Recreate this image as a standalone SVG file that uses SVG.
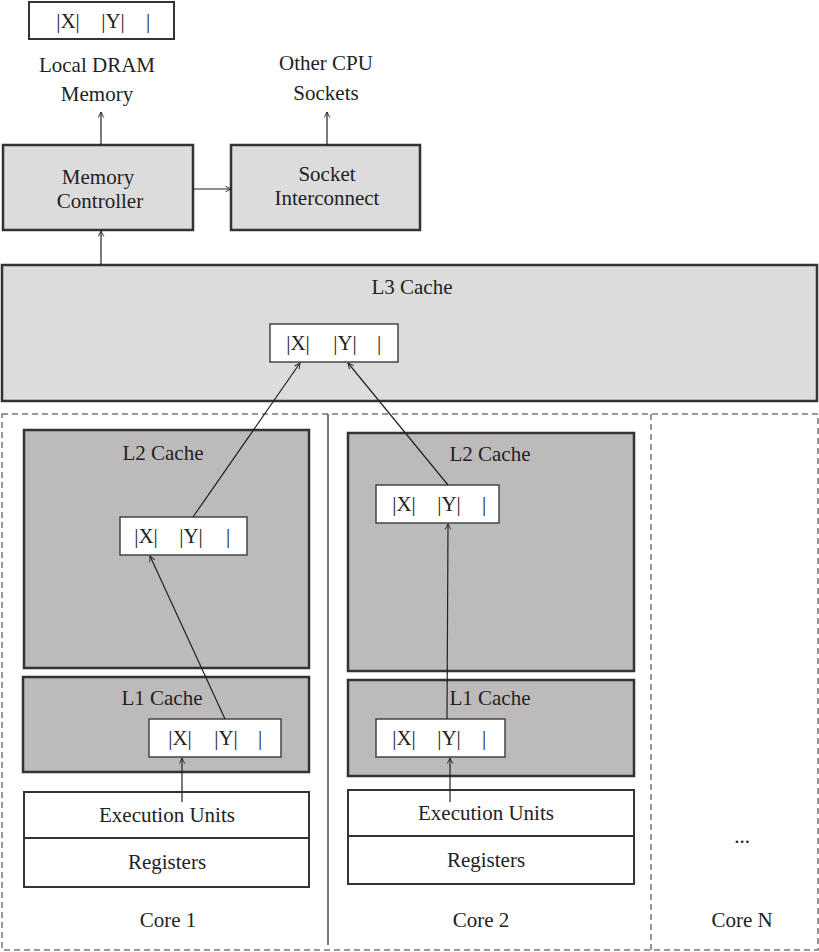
<svg xmlns="http://www.w3.org/2000/svg" width="819" height="952" viewBox="0 0 819 952">
<defs>
<marker id="ah" viewBox="0 0 10 10" refX="9" refY="5" markerWidth="7" markerHeight="7" markerUnits="userSpaceOnUse" orient="auto">
<path d="M1,1 L9,5 L1,9" fill="none" stroke="#222" stroke-width="1.3"/>
</marker>
<style>
text{font-family:"Liberation Serif","Times New Roman",serif;font-size:21px;fill:#222;text-anchor:middle}
.lt{fill:#dcdcdc;stroke:#333;stroke-width:2.5}
.dk{fill:#bcbabb;stroke:#333;stroke-width:2.5}
.wb{fill:#fff;stroke:#444;stroke-width:1.5}
.ex{fill:#fff;stroke:#333;stroke-width:2}
.con{stroke:#222;stroke-width:1.2;fill:none;marker-end:url(#ah)}
.dash{fill:none;stroke:#777;stroke-width:1.5;stroke-dasharray:6 4}
</style>
</defs>
<rect width="819" height="952" fill="#fff"/>

<g id="dram">
<rect class="wb" x="29" y="2" width="145" height="37" style="stroke:#333;stroke-width:2"/>
<text y="28"><tspan x="68">|X|</tspan><tspan x="113">|Y|</tspan><tspan x="148">|</tspan></text>
<text x="97" y="72">Local DRAM</text>
<text x="97" y="101">Memory</text>
</g>

<g id="othercpu">
<text x="326" y="70">Other CPU</text>
<text x="326" y="100">Sockets</text>
</g>

<g id="memctrl">
<rect class="lt" x="3" y="145" width="190" height="85"/>
<text x="98" y="184">Memory</text>
<text x="100" y="208">Controller</text>
</g>

<g id="sockint">
<rect class="lt" x="231" y="145" width="189" height="85"/>
<text x="327" y="181">Socket</text>
<text x="327" y="205">Interconnect</text>
</g>

<g id="l3">
<rect class="lt" x="2" y="265" width="815" height="136"/>
<text x="412" y="294">L3 Cache</text>
<rect class="wb" x="270" y="324" width="128" height="38"/>
<text y="350"><tspan x="298">|X|</tspan><tspan x="345">|Y|</tspan><tspan x="379">|</tspan></text>
</g>

<g id="cores-frame">
<rect class="dash" x="2" y="414" width="816" height="536"/>
<line x1="328" y1="414" x2="328" y2="945" stroke="#222" stroke-width="1.2"/>
<line class="dash" x1="651" y1="414" x2="651" y2="950"/>
</g>

<g id="core1">
<rect class="dk" x="24" y="430" width="285" height="238"/>
<text x="163" y="460">L2 Cache</text>
<rect class="wb" x="120" y="517" width="127" height="38"/>
<text y="543"><tspan x="146">|X|</tspan><tspan x="191">|Y|</tspan><tspan x="228">|</tspan></text>
<rect class="dk" x="23" y="677" width="286" height="95"/>
<text x="162" y="705">L1 Cache</text>
<rect class="wb" x="149" y="719" width="132" height="38"/>
<text y="745"><tspan x="180">|X|</tspan><tspan x="226">|Y|</tspan><tspan x="260">|</tspan></text>
<rect class="ex" x="24" y="792" width="285" height="46"/>
<text x="167" y="822">Execution Units</text>
<rect class="ex" x="24" y="838" width="285" height="49"/>
<text x="167" y="869">Registers</text>
<text x="168" y="927">Core 1</text>
</g>

<g id="core2">
<rect class="dk" x="348" y="433" width="286" height="238"/>
<text x="490" y="461">L2 Cache</text>
<rect class="wb" x="376" y="485" width="123" height="38"/>
<text y="511"><tspan x="404">|X|</tspan><tspan x="449">|Y|</tspan><tspan x="484">|</tspan></text>
<rect class="dk" x="348" y="680" width="286" height="96"/>
<text x="490" y="705">L1 Cache</text>
<rect class="wb" x="376" y="719" width="129" height="38"/>
<text y="745"><tspan x="404">|X|</tspan><tspan x="449">|Y|</tspan><tspan x="484">|</tspan></text>
<rect class="ex" x="348" y="790" width="286" height="46"/>
<text x="486" y="820">Execution Units</text>
<rect class="ex" x="348" y="836" width="286" height="48"/>
<text x="486" y="867">Registers</text>
<text x="481" y="927">Core 2</text>
</g>

<g id="coreN">
<text x="742" y="843">...</text>
<text x="742" y="927">Core N</text>
</g>

<g id="connectors">
<line class="con" x1="101" y1="145" x2="101" y2="112"/>
<line class="con" x1="327" y1="145" x2="327" y2="112"/>
<line class="con" x1="193" y1="189" x2="231" y2="189"/>
<line class="con" x1="101" y1="265" x2="101" y2="231"/>
<line class="con" x1="193" y1="517" x2="300" y2="363"/>
<line class="con" x1="448" y1="485" x2="348" y2="363"/>
<line class="con" x1="225" y1="719" x2="150" y2="556"/>
<line class="con" x1="447" y1="719" x2="448" y2="524"/>
<line class="con" x1="182" y1="802" x2="182" y2="758"/>
<line class="con" x1="450" y1="802" x2="450" y2="758"/>
</g>
</svg>
